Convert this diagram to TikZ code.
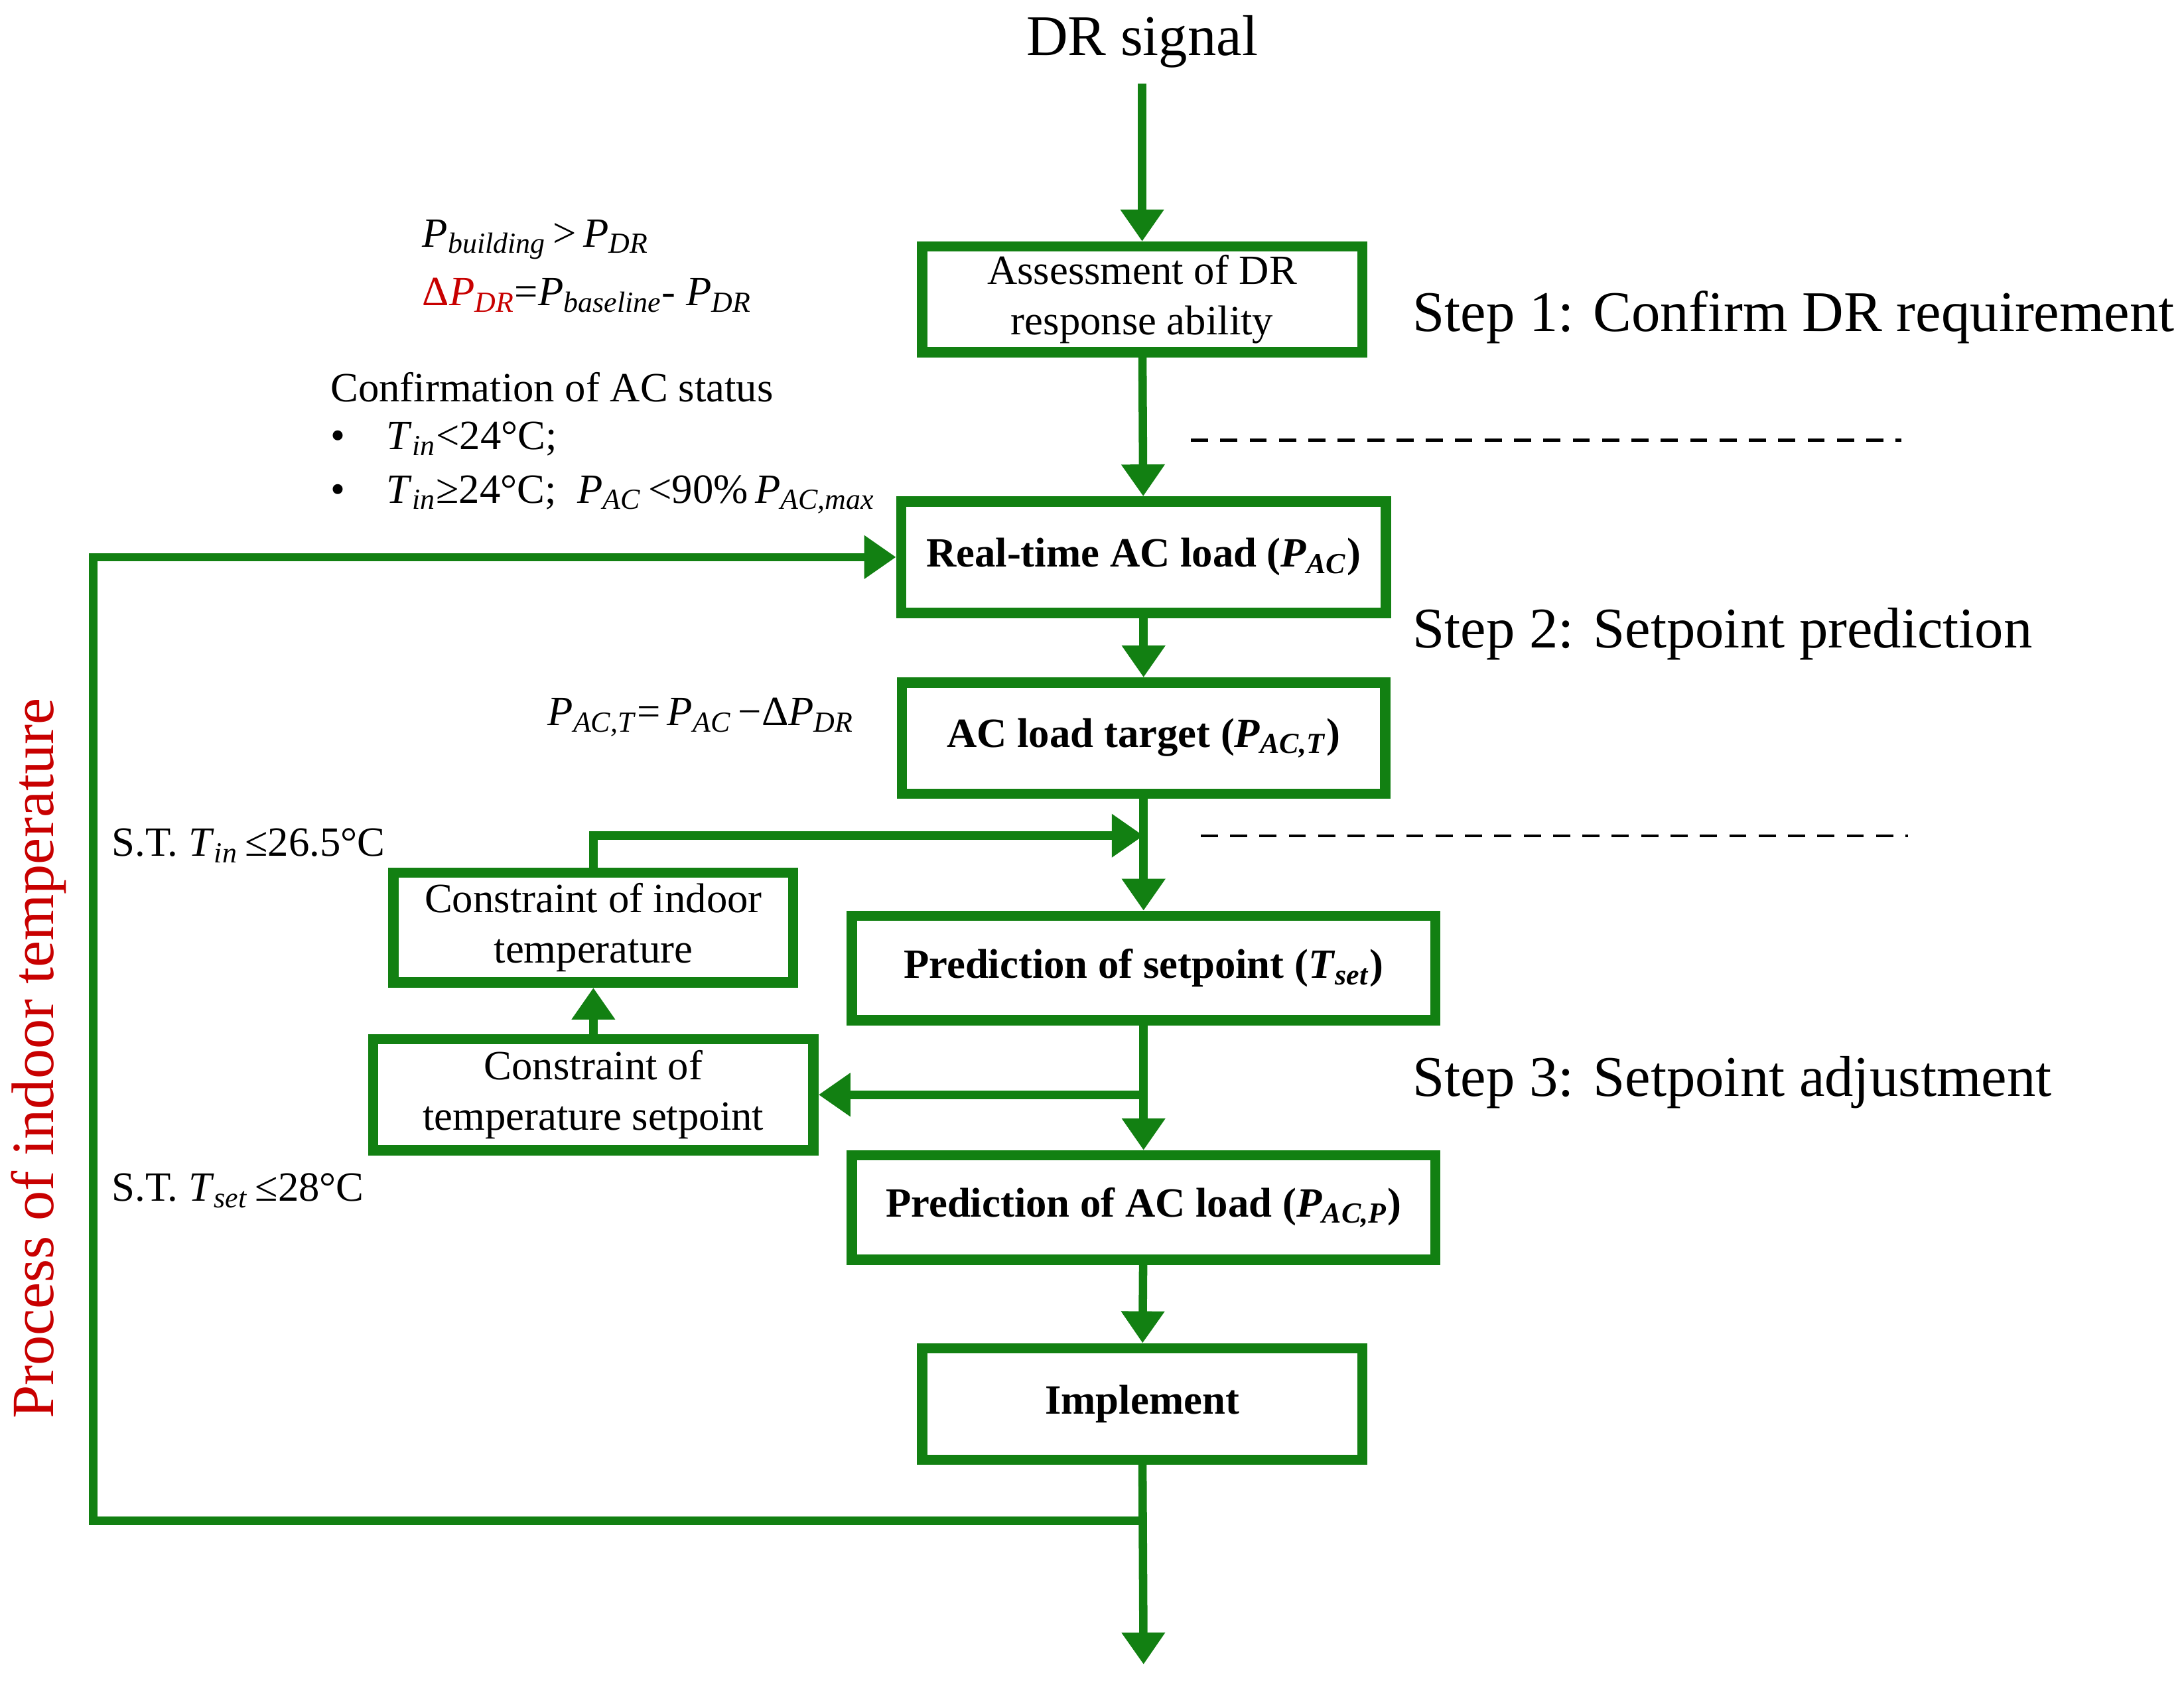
\documentclass[tikz,border=0pt]{standalone}
\usepackage{fontspec}
\setmainfont{Liberation Serif}
\usetikzlibrary{arrows.meta}
\definecolor{gr}{RGB}{18,128,18}
\definecolor{rd}{RGB}{200,0,0}
\begin{document}
\begin{tikzpicture}[x=0.02cm,y=-0.02cm,
 box/.style={draw=gr,line width=4.2pt,align=center,inner sep=0pt,font=\fontsize{17}{20.5}\selectfont},
 bbox/.style={box,font=\fontsize{17}{20.5}\selectfont\bfseries},
 ln/.style={draw=gr,line width=3.4pt},
 ar/.style={ln,-{Triangle[length=13pt,width=17pt]}},
 big/.style={font=\fontsize{23.5}{28}\selectfont},
 ann/.style={font=\fontsize{17}{20}\selectfont,anchor=west,inner sep=0pt}]
\useasboundingbox (0,0) rectangle (1568,1208);
\node[box,minimum width=316*0.02cm,minimum height=76*0.02cm] (a) at (820,215) {Assessment of DR\\response ability};
\node[bbox,minimum width=348*0.02cm,minimum height=80*0.02cm] (b) at (821,400) {Real-time AC load (\textit{P}\textsubscript{\textit{AC}})};
\node[bbox,minimum width=347*0.02cm,minimum height=80*0.02cm] (c) at (821,530) {AC load target (\textit{P}\textsubscript{\textit{AC,T}})};
\node[bbox,minimum width=419*0.02cm,minimum height=75*0.02cm] (d) at (821,695) {Prediction of setpoint (\textit{T}\textsubscript{\textit{set}})};
\node[bbox,minimum width=419*0.02cm,minimum height=75*0.02cm] (e) at (821,867) {Prediction of AC load (\textit{P}\textsubscript{\textit{AC,P}})};
\node[bbox,minimum width=316*0.02cm,minimum height=80*0.02cm] (f) at (820,1008) {Implement};
\node[box,minimum width=287*0.02cm,minimum height=79*0.02cm] (g) at (426,666) {Constraint of indoor\\temperature};
\node[box,minimum width=316*0.02cm,minimum height=80*0.02cm] (h) at (426,786) {Constraint of\\temperature setpoint};
\node[big] (sig) at (820,30) {DR signal};
\coordinate (s0) at (820,60);
\draw[ar] (s0) -- (a);
\draw[ar] (a) -- (b);
\draw[ar] (b) -- (c);
\draw[ar] (c) -- (d);
\coordinate (j1) at (821,600);
\draw[ar] (g.north) |- (j1);
\draw[ar] (d) -- (e);
\coordinate (j2) at (821,786);
\draw[ar] (j2) -- (h);
\draw[ar] (h) -- (g);
\draw[ar] (e) -- (f);
\coordinate (endp) at (821,1195);
\draw[ar] (f) -- (endp);
\coordinate (j3) at (821,1092);
\coordinate (l1) at (67,1092);
\draw[ar] (j3) -- (l1) |- (b.west);
\coordinate (d1) at (855,316); \coordinate (d2) at (1365,316);
\coordinate (d3) at (862,600); \coordinate (d4) at (1370,600);
\draw[line width=1.2pt,dash pattern=on 7pt off 5pt] (d1) -- (d2);
\draw[line width=1.2pt,dash pattern=on 7pt off 5pt] (d3) -- (d4);
\node[big,anchor=west] (t1) at (1008,228) {Step 1: Confirm DR requirement};
\node[big,anchor=west] (t2) at (1008,455) {Step 2: Setpoint prediction};
\node[big,anchor=west] (t3) at (1008,777) {Step 3: Setpoint adjustment};
\node[big,font=\fontsize{24.5}{28}\selectfont,rotate=90,text=rd] (pr) at (28,760) {Process of indoor temperature};
\node[ann] (n1) at (303,172) {\textit{P}\textsubscript{\textit{building}}\,>\,\textit{P}\textsubscript{\textit{DR}}};
\node[ann] (n2) at (303,212) {\textcolor{rd}{Δ\textit{P}\textsubscript{\textit{DR}}}=\textit{P}\textsubscript{\textit{baseline}}- \textit{P}\textsubscript{\textit{DR}}};
\node[ann] (n3) at (237,278) {Confirmation of AC status};
\node[ann] (n4) at (237,315) {•\quad\textit{T}\textsubscript{\textit{in}}<24°C;};
\node[ann] (n5) at (237,355) {•\quad\textit{T}\textsubscript{\textit{in}}≥24°C;\enspace \textit{P}\textsubscript{\textit{AC}}\,<90\%\,\textit{P}\textsubscript{\textit{AC,max}}};
\node[ann] (n6) at (393,515) {\textit{P}\textsubscript{\textit{AC,T}}=\,\textit{P}\textsubscript{\textit{AC}}\,−Δ\textit{P}\textsubscript{\textit{DR}}};
\node[ann] (n7) at (80,607) {S.T. \textit{T}\textsubscript{\textit{in}}\,≤26.5°C};
\node[ann] (n8) at (80,855) {S.T. \textit{T}\textsubscript{\textit{set}}\,≤28°C};
\end{tikzpicture}
\end{document}
